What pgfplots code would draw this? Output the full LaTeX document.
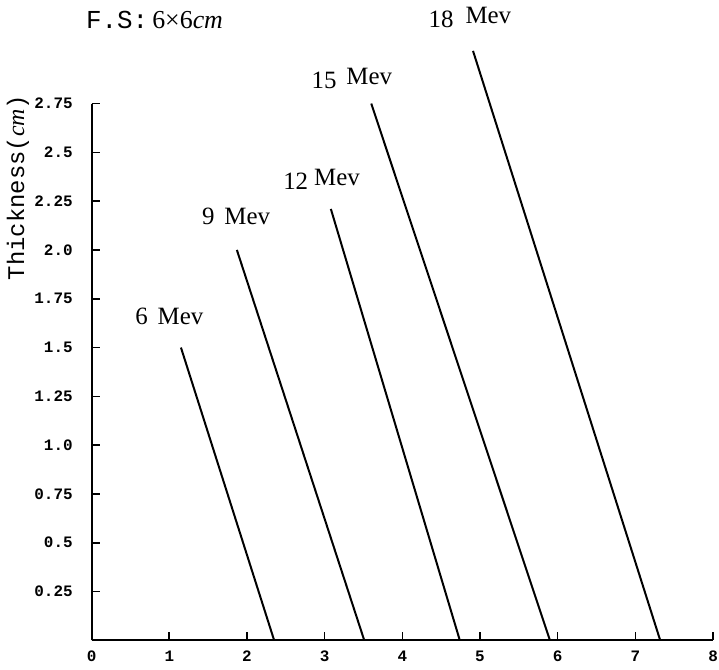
\documentclass[border=0pt]{standalone}
\usepackage{fontspec}
\setmainfont{Liberation Serif}
\setmonofont{Liberation Mono}
\usepackage{pgfplots}
\pgfplotsset{compat=1.18}
\begin{document}
\begin{tikzpicture}
\begin{axis}[
  x=39pt, y=98pt,
  xmin=0, xmax=8, ymin=0, ymax=2.75,
  axis x line=bottom, axis y line=left,
  axis line style={-, line width=1pt},
  clip=false,
  tick align=inside,
  major tick length=4pt,
  tick style={line width=0.8pt, black},
  xtick={0,1,2,3,4,5,6,7,8},
  xticklabels={0,1,2,3,4,5,6,7,8},
  ytick={0.25,0.5,0.75,1,1.25,1.5,1.75,2,2.25,2.5,2.75},
  yticklabels={0.25,0.5,0.75,1.0,1.25,1.5,1.75,2.0,2.25,2.5,2.75},
  ticklabel style={font=\ttfamily\bfseries\fontsize{8}{9}\selectfont},
  xticklabel style={yshift=-2pt},
  yticklabel style={xshift=-6pt},
]
\coordinate (O) at (axis cs:0,0);
% 6 MeV
\addplot[black, line width=1pt] coordinates {(1.15,1.50) (2.35,0)};
% 9 MeV
\addplot[black, line width=1pt] coordinates {(1.87,2.00) (3.51,0)};
% 12 MeV
\addplot[black, line width=1pt] coordinates {(3.08,2.21) (4.74,0)};
% 15 MeV
\addplot[black, line width=1pt] coordinates {(3.60,2.75) (5.90,0)};
% 18 MeV
\addplot[black, line width=1pt] coordinates {(4.91,3.02) (7.32,0)};

\node[font=\fontsize{12.5}{14}\selectfont] at (axis cs:1.00,1.66) {6\hspace{5pt}Mev};
\node[font=\fontsize{12.5}{14}\selectfont] at (axis cs:1.86,2.17) {9\hspace{5pt}Mev};
\node[font=\fontsize{12.5}{14}\selectfont] at (axis cs:2.96,2.36) {12\hspace{3pt}\raisebox{2pt}{Mev}};
\node[font=\fontsize{12.5}{14}\selectfont] at (axis cs:3.35,2.88) {15\hspace{5pt}\raisebox{2pt}{Mev}};
\node[font=\fontsize{12.5}{14}\selectfont] at (axis cs:4.87,3.19) {18\hspace{6pt}\raisebox{2pt}{Mev}};
\node[font=\fontsize{13}{15}\selectfont] at (axis cs:0.81,3.18) {{\ttfamily F.S:}\hspace{2pt}6×6{\itshape cm}};
\node[rotate=90, font=\ttfamily\fontsize{12}{14}\selectfont] at ([xshift=-37pt]axis cs:0,2.32) {Thickness({\rmfamily\itshape cm})};
\end{axis}
\pgfresetboundingbox
\path ([shift={(-46pt,-14.5pt)}]O) rectangle ([shift={(315pt,321.5pt)}]O);
\end{tikzpicture}
\end{document}
